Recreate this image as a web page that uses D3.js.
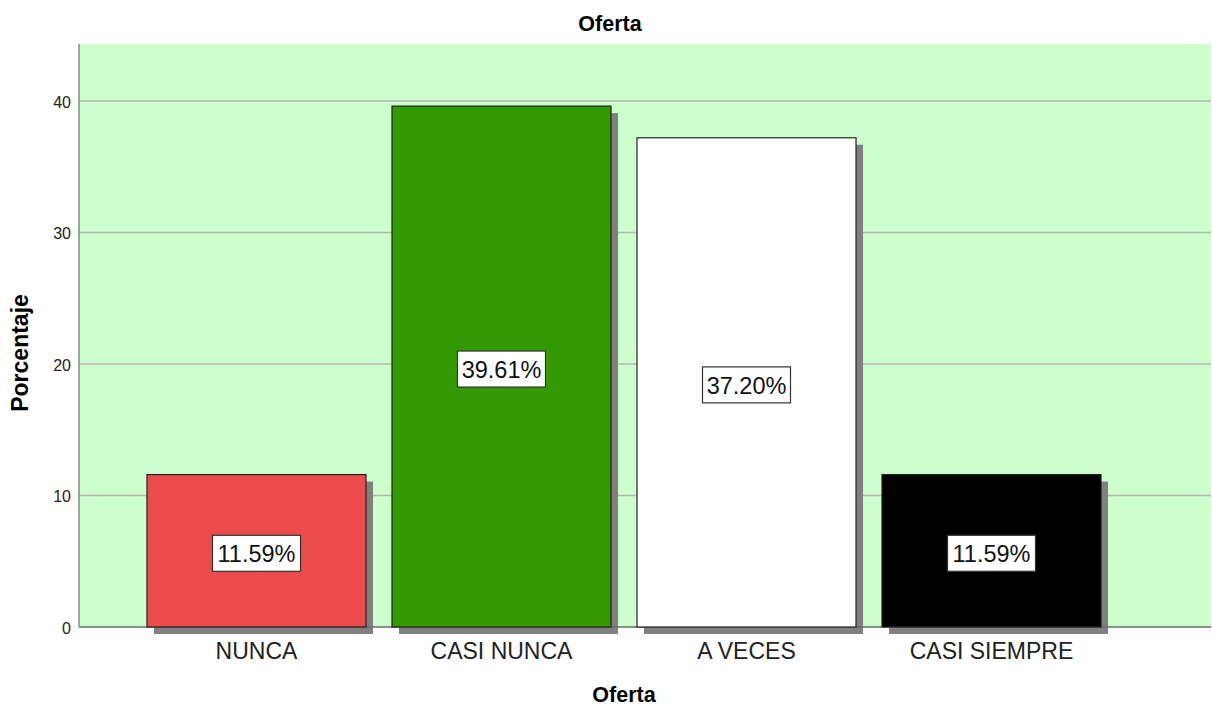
<!DOCTYPE html>
<html><head><meta charset="utf-8">
<script src="https://cdn.jsdelivr.net/npm/d3@7"></script>
<style>body{margin:0;background:#fff}svg{display:block;font-family:"Liberation Sans",Arial,sans-serif}</style>
</head><body><svg id="c" width="1212" height="708"></svg>
<script>
const categories = ["NUNCA","CASI NUNCA","A VECES","CASI SIEMPRE"];
const values = [11.59, 39.61, 37.20, 11.59];
const labels = ["11.59%","39.61%","37.20%","11.59%"];
const colors = ["#ec4b4b","#339900","#ffffff","#000000"];
const yTicks = [0,10,20,30,40];

const svg = d3.select("#c");
const L=79, T=44, R=1211, B=627;
const x = d3.scaleBand().domain(categories).range([134,1114]).paddingInner(0.106).paddingOuter(0.053);
const y = d3.scaleLinear().domain([0,44.33]).range([B,T]);

svg.append("rect").attr("x",L).attr("y",T).attr("width",R-L).attr("height",B-T).attr("fill","#ccffcc");
svg.selectAll(".grid").data(yTicks.filter(d=>d>0)).join("line")
  .attr("x1",L).attr("x2",R).attr("y1",d=>y(d)).attr("y2",d=>y(d))
  .attr("stroke","#b4b4b4").attr("stroke-width",1.5);

const sh = 7;
svg.selectAll(".shadow").data(values).join("rect")
  .attr("x",(d,i)=>x(categories[i])+sh).attr("y",d=>y(d)+sh)
  .attr("width",x.bandwidth()).attr("height",d=>B-y(d))
  .attr("fill","#808080");
svg.append("line").attr("x1",L).attr("x2",R).attr("y1",B).attr("y2",B).attr("stroke","#6a6a6a").attr("stroke-width",1.5);
svg.append("line").attr("x1",L).attr("x2",L).attr("y1",T).attr("y2",B).attr("stroke","#888").attr("stroke-width",1.5);

svg.selectAll(".bar").data(values).join("rect")
  .attr("x",(d,i)=>x(categories[i])).attr("y",d=>y(d))
  .attr("width",x.bandwidth()).attr("height",d=>B-y(d))
  .attr("fill",(d,i)=>colors[i]).attr("stroke","#222").attr("stroke-width",1.2);

values.forEach((v,i)=>{
  const cx = x(categories[i]) + x.bandwidth()/2;
  const cy = y(v/2)+2.5;
  svg.append("rect").attr("x",cx-44).attr("y",cy-18).attr("width",88).attr("height",36)
    .attr("fill","#fff").attr("stroke","#333").attr("stroke-width",1.2);
  svg.append("text").attr("x",cx).attr("y",cy+9).attr("text-anchor","middle")
    .attr("font-size",23.5).attr("fill","#111").text(labels[i]);
});

svg.selectAll(".yt").data(yTicks).join("text")
  .attr("x",71).attr("y",d=>y(d)+7).attr("text-anchor","end").attr("font-size",16).attr("fill","#222").text(d=>d);
svg.selectAll(".xt").data(categories).join("text")
  .attr("x",d=>x(d)+x.bandwidth()/2).attr("y",659).attr("text-anchor","middle")
  .attr("font-size",23).attr("fill","#222").text(d=>d);

svg.append("text").attr("x",610).attr("y",31).attr("text-anchor","middle").attr("font-weight","bold").attr("font-size",21.5).text("Oferta");
svg.append("text").attr("x",624).attr("y",702).attr("text-anchor","middle").attr("font-weight","bold").attr("font-size",21.5).text("Oferta");
svg.append("text").attr("transform","translate(28,353) rotate(-90)").attr("text-anchor","middle").attr("font-weight","bold").attr("font-size",23).text("Porcentaje");
</script></body></html>
